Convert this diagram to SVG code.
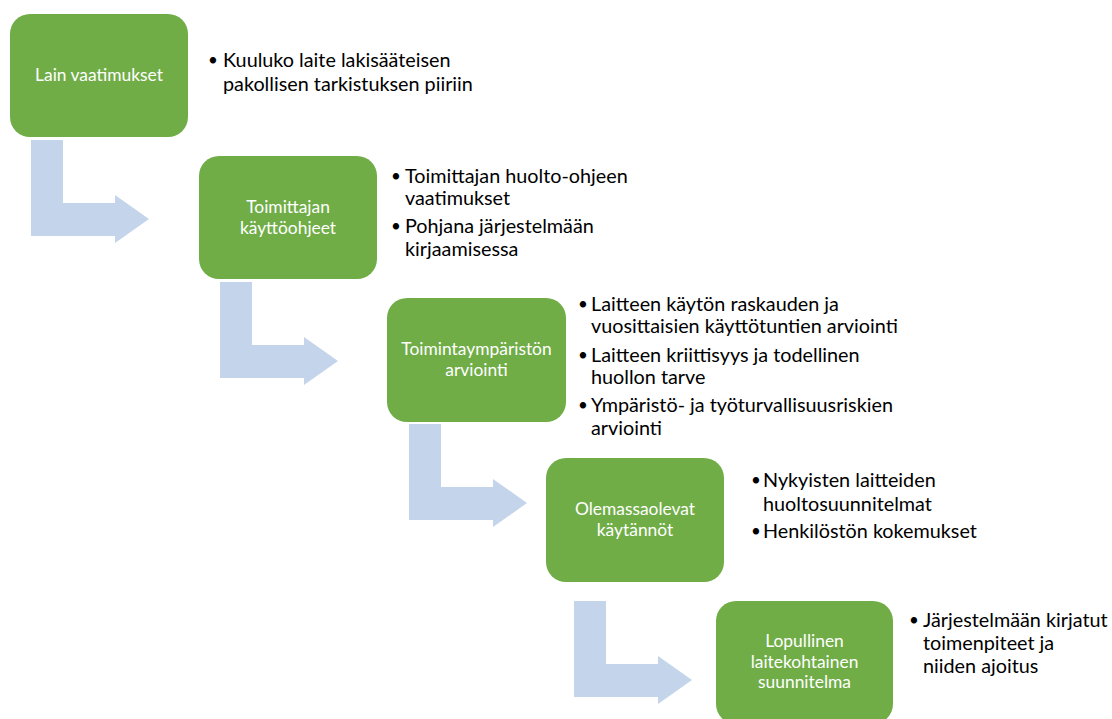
<svg xmlns="http://www.w3.org/2000/svg" width="1112" height="719" viewBox="0 0 1112 719">
  <defs>
    <style>
      .box { fill: #70AD47; }
      .box-label { font-family: Lato, "Liberation Sans", sans-serif; font-size: 17.4px; fill: #FFFFFF; text-anchor: middle; }
      .note { font-family: Lato, "Liberation Sans", sans-serif; font-size: 19.8px; fill: #000000; }
      .dot { font-family: Lato, "Liberation Sans", sans-serif; font-size: 17px; fill: #000000; text-anchor: middle; }
      .bend { fill: #C4D5EB; }
    </style>
    <!-- bent arrow: down, then right; origin at the top-left of the shaft -->
    <path id="bent-arrow" class="bend" d="M0,0 H32 V63 H84 V55 L118,79 L84,103 V96 H0 Z"/>
  </defs>

  <rect width="1112" height="719" fill="#FFFFFF"/>

  <!-- connectors -->
  <g id="connectors">
    <use href="#bent-arrow" x="31" y="140"/>
    <use href="#bent-arrow" x="220" y="282"/>
    <use href="#bent-arrow" x="409" y="424"/>
    <use href="#bent-arrow" x="574" y="601"/>
  </g>

  <!-- step 1 -->
  <g id="step-lain-vaatimukset">
    <rect class="box" x="10" y="14" width="178" height="123" rx="20"/>
    <text class="box-label" x="99" y="81">Lain vaatimukset</text>
    <text class="dot" x="213" y="66">•</text>
    <text class="note" x="223" y="67">Kuuluko laite lakisääteisen</text>
    <text class="note" x="223" y="91">pakollisen tarkistuksen piiriin</text>
  </g>

  <!-- step 2 -->
  <g id="step-toimittajan-kayttoohjeet">
    <rect class="box" x="199" y="156" width="178" height="123" rx="20"/>
    <text class="box-label" x="288" y="213">Toimittajan</text>
    <text class="box-label" x="288" y="234">käyttöohjeet</text>
    <text class="dot" x="396" y="182">•</text>
    <text class="note" x="405" y="183">Toimittajan huolto-ohjeen</text>
    <text class="note" x="405" y="205">vaatimukset</text>
    <text class="dot" x="396" y="232">•</text>
    <text class="note" x="405" y="233">Pohjana järjestelmään</text>
    <text class="note" x="405" y="256">kirjaamisessa</text>
  </g>

  <!-- step 3 -->
  <g id="step-toimintaympariston-arviointi">
    <rect class="box" x="387" y="298" width="179" height="124" rx="20"/>
    <text class="box-label" x="476.5" y="355">Toimintaympäristön</text>
    <text class="box-label" x="476.5" y="376">arviointi</text>
    <text class="dot" x="583" y="310">•</text>
    <text class="note" x="591" y="311">Laitteen käytön raskauden ja</text>
    <text class="note" x="591" y="333">vuosittaisien käyttötuntien arviointi</text>
    <text class="dot" x="583" y="361">•</text>
    <text class="note" x="591" y="362">Laitteen kriittisyys ja todellinen</text>
    <text class="note" x="591" y="384">huollon tarve</text>
    <text class="dot" x="583" y="411">•</text>
    <text class="note" x="591" y="412">Ympäristö- ja työturvallisuusriskien</text>
    <text class="note" x="591" y="435">arviointi</text>
  </g>

  <!-- step 4 -->
  <g id="step-olemassaolevat-kaytannot">
    <rect class="box" x="546" y="458" width="178" height="124" rx="20"/>
    <text class="box-label" x="635" y="515">Olemassaolevat</text>
    <text class="box-label" x="635" y="536">käytännöt</text>
    <text class="dot" x="756" y="486">•</text>
    <text class="note" x="763" y="487">Nykyisten laitteiden</text>
    <text class="note" x="763" y="511">huoltosuunnitelmat</text>
    <text class="dot" x="756" y="537">•</text>
    <text class="note" x="763" y="538">Henkilöstön kokemukset</text>
  </g>

  <!-- step 5 -->
  <g id="step-lopullinen-suunnitelma">
    <rect class="box" x="716" y="601" width="177" height="123" rx="20"/>
    <text class="box-label" x="804.5" y="647">Lopullinen</text>
    <text class="box-label" x="804.5" y="668">laitekohtainen</text>
    <text class="box-label" x="804.5" y="688">suunnitelma</text>
    <text class="dot" x="914" y="626">•</text>
    <text class="note" x="923" y="627">Järjestelmään kirjatut</text>
    <text class="note" x="923" y="650">toimenpiteet ja</text>
    <text class="note" x="923" y="673">niiden ajoitus</text>
  </g>
</svg>
